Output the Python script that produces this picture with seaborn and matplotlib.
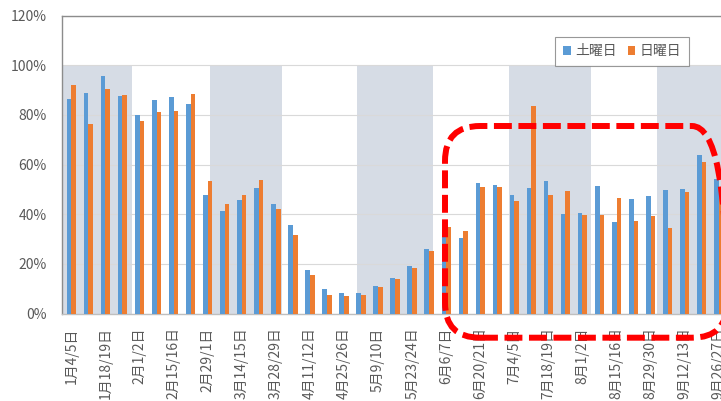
import pandas as pd
import matplotlib.pyplot as plt
import matplotlib.transforms as mtransforms
from matplotlib.patches import FancyBboxPatch, Patch
from matplotlib.ticker import PercentFormatter
import seaborn as sns

sns.set_style("white")
plt.rcParams['font.family'] = ['Noto Sans CJK JP', 'DejaVu Sans']

weeks = ['1月4/5日', '1月11/12日', '1月18/19日', '1月25/26日',
         '2月1/2日', '2月8/9日', '2月15/16日', '2月22/23日',
         '2月29/1日', '3月7/8日', '3月14/15日', '3月21/22日', '3月28/29日',
         '4月4/5日', '4月11/12日', '4月18/19日', '4月25/26日',
         '5月2/3日', '5月9/10日', '5月16/17日', '5月23/24日', '5月30/31日',
         '6月6/7日', '6月13/14日', '6月20/21日', '6月27/28日',
         '7月4/5日', '7月11/12日', '7月18/19日', '7月25/26日',
         '8月1/2日', '8月8/9日', '8月15/16日', '8月22/23日', '8月29/30日',
         '9月5/6日', '9月12/13日', '9月19/20日', '9月26/27日']
saturday = [0.863, 0.886, 0.957, 0.874, 0.799, 0.861, 0.870, 0.842, 0.478, 0.412,
            0.459, 0.507, 0.440, 0.357, 0.175, 0.097, 0.081, 0.082, 0.109, 0.143,
            0.191, 0.259, 0.346, 0.303, 0.527, 0.519, 0.479, 0.507, 0.533, 0.400,
            0.404, 0.515, 0.367, 0.460, 0.475, 0.496, 0.503, 0.637, 0.541]
sunday = [0.922, 0.762, 0.906, 0.881, 0.774, 0.810, 0.817, 0.882, 0.535, 0.441,
          0.476, 0.539, 0.419, 0.316, 0.155, 0.074, 0.069, 0.073, 0.107, 0.137,
          0.184, 0.252, 0.348, 0.334, 0.508, 0.508, 0.455, 0.834, 0.476, 0.495,
          0.397, 0.397, 0.467, 0.371, 0.392, 0.344, 0.490, 0.612, 0.491]
days = ['土曜日', '日曜日']
# shaded month bands (Jan, Mar, May, Jul, Sep) in week-index units
month_bands = [(-0.55, 3.56), (8.14, 12.36), (16.77, 21.23), (25.69, 30.5), (34.4, 38.6)]

colors = ['#5B9BD5', '#ED7D31']
text_color = '#595959'

df = pd.DataFrame({
    'week': weeks * 2,
    'day': [days[0]] * len(weeks) + [days[1]] * len(weeks),
    'rate': saturday + sunday,
})

fig = plt.figure(figsize=(7.21, 4.01), dpi=100)
ax = fig.add_axes([62 / 721, 87.5 / 401, 659 / 721, 298 / 401])

for start, end in month_bands:
    ax.axvspan(start, end, ymin=0, ymax=1.0 / 1.2, color='#D6DCE5', lw=0, zorder=0.2)

sns.barplot(data=df, x='week', y='rate', hue='day', hue_order=days,
            palette=colors, width=0.55, saturation=1, legend=False, ax=ax,
            linewidth=0, zorder=3)

ax.set_xlim(-0.55, 38.13)
ax.set_ylim(0, 1.2)
ax.set_yticks([0, 0.2, 0.4, 0.6, 0.8, 1.0, 1.2])
ax.yaxis.set_major_formatter(PercentFormatter(1.0, decimals=0))
ax.set_xticks(range(0, len(weeks), 2))
ax.set_xticklabels(weeks[::2], rotation=90)
ax.set_xlabel('')
ax.set_ylabel('')
ax.tick_params(axis='both', length=0, labelsize=10, labelcolor=text_color)
ax.tick_params(axis='y', pad=11)
ax.tick_params(axis='x', pad=10)

ax.yaxis.grid(True, color='#D9D9D9', lw=0.8)
ax.set_axisbelow(True)
for side in ['left', 'top']:
    ax.spines[side].set_color('#8C8C8C')
    ax.spines[side].set_linewidth(1.0)
ax.spines['bottom'].set_color('#BFBFBF')
ax.spines['bottom'].set_linewidth(1.0)
ax.spines['right'].set_visible(False)

handles = [Patch(facecolor=c, edgecolor='none') for c in colors]
leg = ax.legend(handles, days, loc='upper right', bbox_to_anchor=(0.951, 0.929),
                ncol=2, fontsize=10, frameon=True, fancybox=False,
                handlelength=0.55, handleheight=0.55, handletextpad=0.3,
                columnspacing=0.8, borderpad=0.55, borderaxespad=0)
leg.get_frame().set_edgecolor('#7F7F7F')
leg.get_frame().set_linewidth(0.8)
for t in leg.get_texts():
    t.set_color(text_color)

# red dashed rounded highlight box (pixel coordinates)
box = FancyBboxPatch((445, 401 - 337.7), 727 - 445, 337.7 - 126,
                     boxstyle="round,pad=0,rounding_size=35",
                     transform=mtransforms.IdentityTransform(),
                     fill=False, edgecolor='#FF0000', lw=4.3,
                     linestyle=(0, (3.0, 1.1)), clip_on=False, zorder=10)
fig.add_artist(box)

fig.savefig('out.png', dpi=100)
plt.close(fig)
